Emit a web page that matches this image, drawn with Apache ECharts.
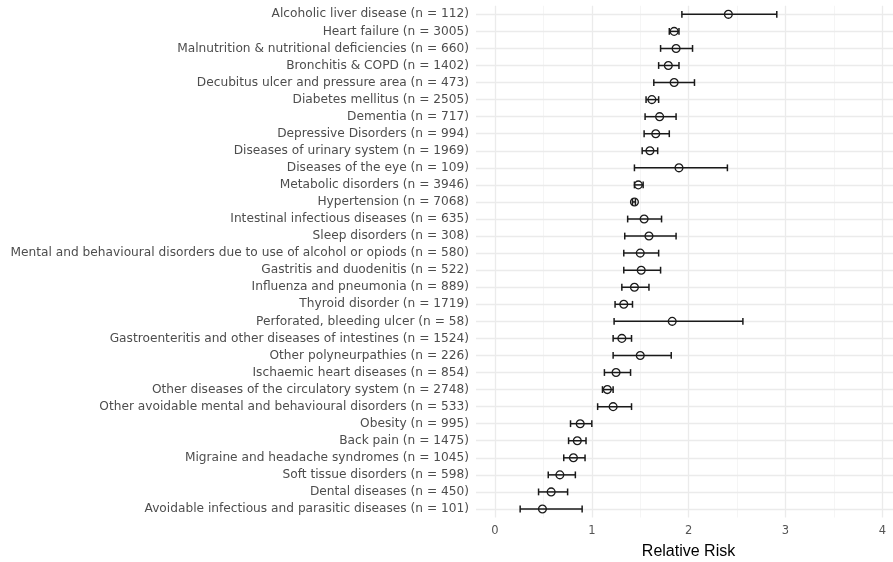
<!DOCTYPE html>
<html><head><meta charset="utf-8">
<script src="https://cdn.jsdelivr.net/npm/echarts@6/dist/echarts.min.js"></script>
<style>html,body{margin:0;padding:0;background:#fff}#c{width:893px;height:562px}</style>
</head><body><div id="c"></div>
<script>
const categories = [
  "Alcoholic liver disease (n = 112)",
  "Heart failure (n = 3005)",
  "Malnutrition & nutritional deficiencies (n = 660)",
  "Bronchitis & COPD (n = 1402)",
  "Decubitus ulcer and pressure area (n = 473)",
  "Diabetes mellitus (n = 2505)",
  "Dementia (n = 717)",
  "Depressive Disorders (n = 994)",
  "Diseases of urinary system (n = 1969)",
  "Diseases of the eye (n = 109)",
  "Metabolic disorders (n = 3946)",
  "Hypertension (n = 7068)",
  "Intestinal infectious diseases (n = 635)",
  "Sleep disorders (n = 308)",
  "Mental and behavioural disorders due to use of alcohol or opiods (n = 580)",
  "Gastritis and duodenitis (n = 522)",
  "Influenza and pneumonia (n = 889)",
  "Thyroid disorder (n = 1719)",
  "Perforated, bleeding ulcer (n = 58)",
  "Gastroenteritis and other diseases of intestines (n = 1524)",
  "Other polyneurpathies (n = 226)",
  "Ischaemic heart diseases (n = 854)",
  "Other diseases of the circulatory system (n = 2748)",
  "Other avoidable mental and behavioural disorders (n = 533)",
  "Obesity (n = 995)",
  "Back pain (n = 1475)",
  "Migraine and headache syndromes (n = 1045)",
  "Soft tissue disorders (n = 598)",
  "Dental diseases (n = 450)",
  "Avoidable infectious and parasitic diseases (n = 101)"
];
const estimate = [2.41,1.85,1.87,1.79,1.85,1.62,1.70,1.66,1.60,1.90,1.48,1.44,1.54,1.59,1.50,1.51,1.44,1.33,1.83,1.31,1.50,1.25,1.16,1.22,0.88,0.85,0.81,0.67,0.58,0.49];
const lower    = [1.93,1.80,1.71,1.69,1.64,1.56,1.55,1.54,1.52,1.44,1.44,1.42,1.37,1.34,1.33,1.33,1.31,1.24,1.23,1.22,1.22,1.13,1.11,1.06,0.78,0.76,0.71,0.55,0.45,0.26];
const upper    = [2.91,1.90,2.04,1.90,2.06,1.69,1.87,1.80,1.68,2.40,1.53,1.45,1.72,1.87,1.69,1.71,1.59,1.42,2.56,1.41,1.82,1.40,1.22,1.41,1.00,0.94,0.93,0.83,0.75,0.90];
const majorTicks = [0,1,2,3,4];
const minorTicks = [0.5,1.5,2.5,3.5];
const xTitle = "Relative Risk";

const chart = echarts.init(document.getElementById('c'), null, {renderer:'canvas'});
const font = "'DejaVu Sans', sans-serif";
const titleFont = "'Liberation Sans', Arial, sans-serif";
const ink = '#1a1a1a';

chart.setOption({
  animation: false,
  backgroundColor: '#fff',
  grid: {left: 476, right: 0, top: 5.8, bottom: 44.5, containLabel: false, outerBoundsMode: 'none'},
  xAxis: {
    type: 'value', min: -0.196, max: 4.11,
    axisLine: {show: false}, axisTick: {show: false}, splitLine: {show: false},
    axisLabel: {customValues: majorTicks, color: '#555', fontSize: 11.5, fontFamily: font, margin: 8},
    name: xTitle, nameLocation: 'middle', nameGap: 26,
    nameTextStyle: {color: '#000', fontSize: 16, fontFamily: titleFont, padding: [0,0,0,8]}
  },
  yAxis: {
    type: 'category', data: categories, inverse: true,
    axisLine: {show: false}, axisTick: {show: false}, splitLine: {show: false},
    axisLabel: {color: '#4d4d4d', fontSize: 12.2, fontFamily: font, margin: 7}
  },
  series: [
    {
      type: 'scatter', data: [], silent: true, z: 1,
      markLine: {
        silent: true, symbol: 'none', label: {show: false}, animation: false, z: 1,
        data: [].concat(
          minorTicks.map(v => ({xAxis: v, lineStyle: {color: '#f2f2f2', width: 0.8, type: 'solid'}})),
          majorTicks.map(v => ({xAxis: v, lineStyle: {color: '#ebebeb', width: 1.3, type: 'solid'}})),
          categories.map(c => ({yAxis: c, lineStyle: {color: '#ebebeb', width: 1.3, type: 'solid'}}))
        )
      }
    },
    {
      type: 'custom', z: 10,
      data: categories.map((c, i) => [lower[i], upper[i], i]),
      encode: {x: [0, 1], y: 2},
      renderItem: function (params, api) {
        const lo = api.coord([api.value(0), api.value(2)]);
        const hi = api.coord([api.value(1), api.value(2)]);
        const h = api.size([0, 1])[1] * 0.2;
        const st = {stroke: ink, lineWidth: 1.5};
        return {type: 'group', children: [
          {type: 'line', shape: {x1: lo[0], y1: lo[1], x2: hi[0], y2: hi[1]}, style: st},
          {type: 'line', shape: {x1: lo[0], y1: lo[1]-h, x2: lo[0], y2: lo[1]+h}, style: st},
          {type: 'line', shape: {x1: hi[0], y1: hi[1]-h, x2: hi[0], y2: hi[1]+h}, style: st}
        ]};
      }
    },
    {
      type: 'scatter', z: 11,
      data: categories.map((c, i) => [estimate[i], i]),
      symbol: 'circle', symbolSize: 7.8,
      itemStyle: {color: 'rgba(255,255,255,0)', borderColor: ink, borderWidth: 1.3, opacity: 1}
    }
  ]
});
</script>
</body></html>
